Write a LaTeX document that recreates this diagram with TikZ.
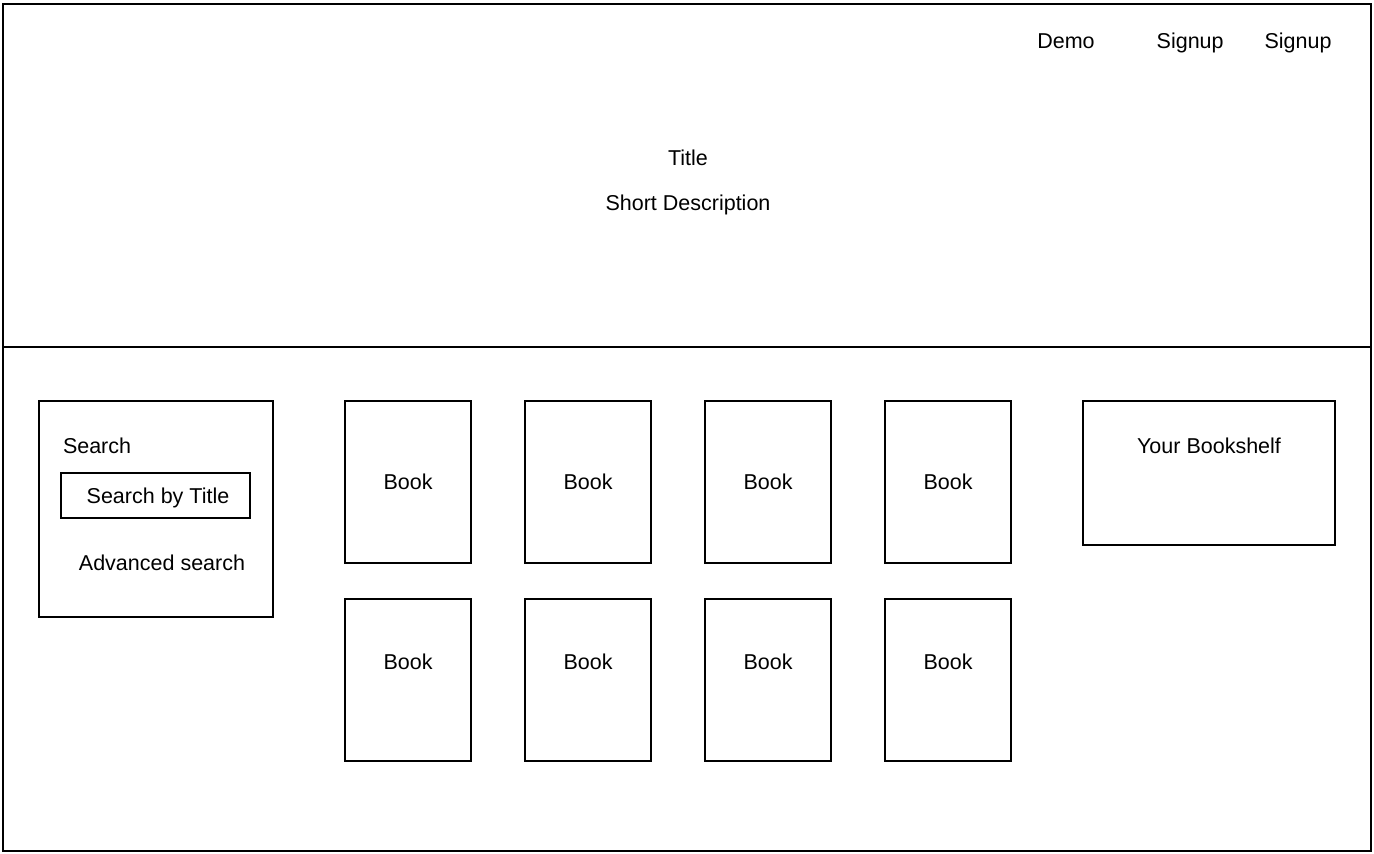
\documentclass[tikz,border=0pt]{standalone}
\usepackage{fontspec}
\setmainfont{Liberation Sans}
\usetikzlibrary{positioning}

\begin{document}
\begin{tikzpicture}[x=1pt, y=-1pt,
      every node/.style={font=\fontsize{21.5}{25}\selectfont, inner sep=0pt, outer sep=0pt,
                         text height=15.5pt, text depth=0pt},
      frame/.style={draw, line width=2pt, minimum width=1368pt},
      box/.style={draw, line width=1.5pt},
      book/.style={box, minimum width=126pt, minimum height=162pt},
      bookhi/.style={book, text depth=36pt},
  ]
    \useasboundingbox (0,0) rectangle (1374,854);

    % page frame
    \node[frame, minimum height=343pt, anchor=north west] (head) at (3,4) {};
    \node[frame, minimum height=504pt, below=0pt of head] (body) {};

    % header
    \node (demo) at (1066,41) {Demo};
    \node[right=62pt of demo] (signup) {Signup};
    \node[right=41pt of signup] (signupb) {Signup};
    \node (title) at (688,158) {Title};
    \node (desc) at (688,203) {Short Description};

    % search panel
    \node[box, minimum width=234pt, minimum height=216pt, anchor=north west] (search) at (39,401) {};
    \node[anchor=west] (searchlbl) at (63,446) {Search};
    \node[box, minimum width=189pt, minimum height=45pt] (bytitle) at (155.5,495.5) {\hspace{5pt}Search by Title};
    \node (adv) at (162,563) {Advanced search};

    % books
    \node[book] (book1) at (408,482) {Book};
    \node[book, right=54pt of book1] (book2) {Book};
    \node[book, right=54pt of book2] (book3) {Book};
    \node[book, right=54pt of book3] (book4) {Book};
    \node[bookhi, below=36pt of book1] (book5) {Book};
    \node[bookhi, below=36pt of book2] (book6) {Book};
    \node[bookhi, below=36pt of book3] (book7) {Book};
    \node[bookhi, below=36pt of book4] (book8) {Book};

    % bookshelf
    \node[box, minimum width=252pt, minimum height=144pt, anchor=north west] (shelf) at (1083,401) {};
    \node (shelflbl) at ([yshift=-45pt]shelf.north) {Your Bookshelf};
  \end{tikzpicture}
\end{document}
